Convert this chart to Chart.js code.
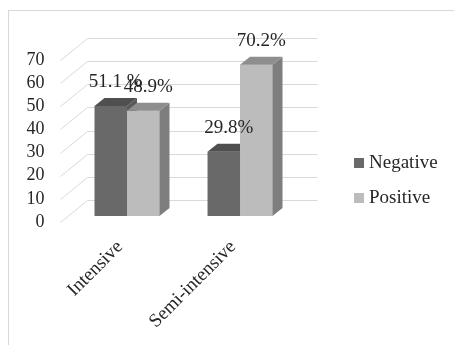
<!DOCTYPE html>
<html>
<head>
<meta charset="utf-8">
<style>
html, body { margin: 0; padding: 0; background: #fff; overflow: hidden; }
#wrap { position: relative; width: 454px; height: 345px; }
#frame { position: absolute; left: 8px; top: 10px; width: 470px; height: 360px; border: 1px solid #d9d9d9; }
canvas { position: absolute; left: 0; top: 0; }
</style>
<script src="https://cdn.jsdelivr.net/npm/chart.js"></script>
</head>
<body>
<div id="wrap">
  <div id="frame"></div>
  <canvas id="chart" width="454" height="345"></canvas>
</div>
<script>
// values
const categories = ['Intensive', 'Semi-intensive'];
const negative = [51.1, 29.8];
const positive = [48.9, 70.2];
const negativeLabels = ['51.1 %', '29.8%'];
const positiveLabels = ['48.9%', '70.2%'];
const yTicks = [0, 10, 20, 30, 40, 50, 60, 70];

const serif = '"Liberation Serif", "Times New Roman", serif';
const textColor = '#262626';

// front / top / side shades for each series
const shades = [
    { front: '#696969', top: '#4f4f4f', side: '#5a5a5a' },
    { front: '#bcbcbc', top: '#8e8e8e', side: '#7e7e7e' }
];

// 3d grid walls, bar tops and sides, value labels
const box3d = {
    id: 'box3d',
    beforeDatasetsDraw(chart) {
        const { ctx, chartArea: a, scales: { x, y } } = chart;
        const wallRight = x.getPixelForValue(categories.length - 0.5) + 21;
        ctx.save();
        ctx.strokeStyle = '#d9d9d9';
        ctx.lineWidth = 1;
        y.ticks.forEach(t => {
            const py = Math.round(y.getPixelForValue(t.value)) + 0.5;
            ctx.beginPath();
            ctx.moveTo(a.left - 10, py);
            ctx.lineTo(a.left + 17, py - 22);
            ctx.lineTo(wallRight, py - 22);
            ctx.stroke();
        });
        ctx.restore();
    },
    afterDatasetsDraw(chart) {
        const ctx = chart.ctx;
        const dx = 10, dy = -8;
        const poly = (pts, color) => {
            ctx.fillStyle = color;
            ctx.beginPath();
            ctx.moveTo(pts[0][0], pts[0][1]);
            pts.slice(1).forEach(p => ctx.lineTo(p[0], p[1]));
            ctx.closePath();
            ctx.fill();
        };
        ctx.save();
        categories.forEach((c, i) => {
            [0, 1].forEach(d => {
                const bar = chart.getDatasetMeta(d).data[i];
                const { x, y, base, width } = bar.getProps(['x', 'y', 'base', 'width'], true);
                const l = x - width / 2, r = x + width / 2;
                if (d > 0) {
                    // repaint the front so it covers the neighbour's side face
                    ctx.fillStyle = shades[d].front;
                    ctx.fillRect(l, y, width, base - y);
                }
                poly([[r, y], [r + dx, y + dy], [r + dx, base + dy], [r, base]], shades[d].side);
                poly([[l, y], [l + dx, y + dy], [r + dx, y + dy], [r, y]], shades[d].top);
            });
        });
        // value labels
        ctx.font = '19px ' + serif;
        ctx.fillStyle = textColor;
        ctx.textAlign = 'center';
        ctx.textBaseline = 'middle';
        [negativeLabels, positiveLabels].forEach((labels, d) => {
            chart.getDatasetMeta(d).data.forEach((bar, i) => {
                ctx.fillText(labels[i], bar.x + 5, bar.y - 24);
            });
        });
        ctx.restore();
    }
};

new Chart(document.getElementById('chart'), {
    type: 'bar',
    data: {
        datasets: [
            { label: 'Negative', data: negative.map((v, i) => ({ x: i, y: v })), backgroundColor: shades[0].front, yAxisID: 'yb' },
            { label: 'Positive', data: positive.map((v, i) => ({ x: i, y: v })), backgroundColor: shades[1].front, yAxisID: 'yb' }
        ]
    },
    options: {
        responsive: false,
        animation: false,
        devicePixelRatio: 1,
        categoryPercentage: 0.575,
        barPercentage: 1,
        layout: { padding: { top: 16, right: 6.4, left: 0, bottom: 0 } },
        plugins: {
            tooltip: { enabled: false },
            legend: {
                position: 'right',
                labels: {
                    font: { family: serif, size: 19 },
                    color: textColor,
                    usePointStyle: true,
                    pointStyle: 'rect',
                    boxWidth: 1,
                    boxHeight: 10,
                    padding: 16
                }
            }
        },
        scales: {
            // linear index axis so the two groups sit left of the legend gap
            x: {
                type: 'linear',
                offset: false,
                min: -0.5,
                max: 1.907,
                grid: { display: false, drawTicks: false, offset: false },
                border: { display: false },
                ticks: {
                    font: { family: serif, size: 19 },
                    color: textColor,
                    minRotation: 45,
                    maxRotation: 45,
                    padding: 14,
                    labelOffset: -7,
                    callback: v => categories[v]
                },
                afterBuildTicks: s => { s.ticks = categories.map((c, i) => ({ value: i })); },
                afterFit: s => { s.height = 123; }
            },
            y: {
                position: 'left',
                min: 0,
                max: 80,
                grid: { display: false, drawTicks: false },
                border: { display: false },
                ticks: { font: { family: serif, size: 18 }, color: textColor, padding: 26 },
                afterBuildTicks: s => { s.ticks = yTicks.map(v => ({ value: v })); },
                afterFit: s => { s.width = 70.5; }
            },
            // bars sit slightly behind the labelled front edge, like the 3d original
            yb: {
                display: false,
                min: -2.79,
                max: 83.2
            }
        }
    },
    plugins: [box3d]
});
</script>
</body>
</html>
